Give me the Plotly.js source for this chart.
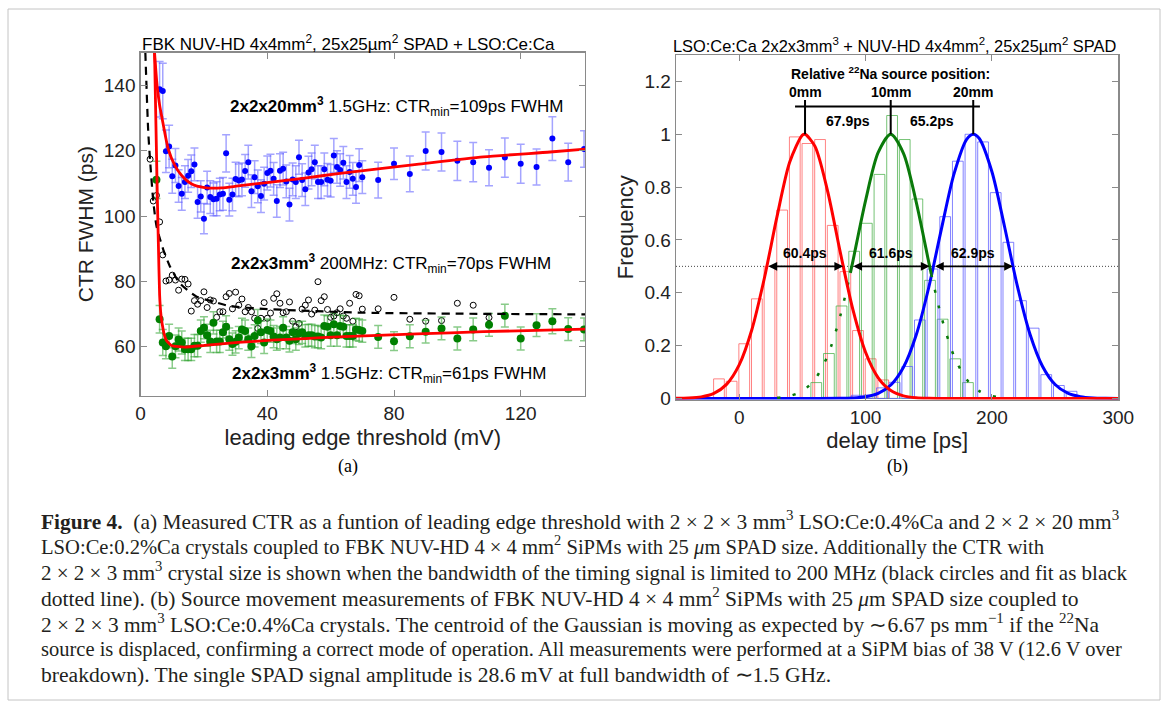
<!DOCTYPE html>
<html><head><meta charset="utf-8">
<script src="https://cdn.plot.ly/plotly-3.0.1.min.js"></script>
<style>html,body{margin:0;padding:0;background:#fff;}#chart{width:1168px;height:709px;}</style>
</head><body><div id="chart"></div>
<script>
// ---------- (a) CTR vs leading edge threshold ----------
const blueX = [6,7,8,9,10,11,12,13,14,15,16,17,18,19,20,21,22,23,24,25,26,27,28,29,30,31,32,33,34,35,36,37,38,39,40,41,42,43,44,45,46,47,48,49,50,51,52,53,54,55,56,57,58,59,60,61,62,63,64,65,66,67,68,69,70,75,80,85,90,95,100,105,110,115,120,125,130,135,140];
const blueY = [138.8,138.3,119.8,121.3,112.2,115.5,109.2,106.8,110.4,112.3,113.7,115.8,104.3,106.0,99.2,108.7,105.8,105.1,105.3,106.6,106.8,119.2,105.0,106.6,111.3,110.9,111.2,113.8,116.5,107.6,111.9,109.1,106.1,109.9,113.2,113.9,111.4,104.6,113.9,114.5,110.6,103.5,111.2,110.4,118.0,111.0,108.2,113.3,114.3,116.5,110.4,110.4,114.3,111.1,110.8,118.5,115.0,114.1,116.3,110.4,113.5,111.4,108.9,115.6,111.9,111.0,116.0,112.9,119.9,119.6,116.9,116.5,114.8,117.9,116.0,115.0,123.7,116.5,120.5];
const blueErr = [8.5,8.5,6.5,6.5,5.2,5.2,5.0,5.0,5.0,5.0,5.0,5.0,5.0,4.8,4.6,5.0,5.0,5.0,5.2,5.0,5.0,5.7,5.0,5.0,5.2,5.0,5.0,5.0,5.2,5.0,5.0,5.0,5.0,5.0,5.2,5.0,5.0,5.0,5.2,5.0,5.0,5.0,5.0,5.0,5.2,5.0,5.0,5.0,5.0,5.2,5.0,5.0,5.0,5.0,5.0,5.2,5.0,5.0,5.0,5.0,5.0,5.0,5.0,5.0,5.0,5.5,4.8,5.5,5.8,5.8,6.0,6.0,5.5,6.0,6.0,5.5,6.7,5.8,5.6];

const greenX = [5,6,7,8,9,10,11,12,13,14,15,16,17,18,19,20,21,22,23,24,25,26,27,28,29,30,31,32,33,34,35,36,37,38,39,40,41,42,43,44,45,46,47,48,49,50,51,52,53,54,55,56,57,58,59,60,61,62,63,64,65,66,67,68,69,70,75,80,85,90,95,100,105,110,115,120,125,130,135,140];
const greenY = [111.1,68.4,61.3,60.1,63.3,57.0,60.1,62.2,61.3,59.2,59.2,59.2,60.3,60.3,64.8,65.8,63.5,61.6,67.3,61.6,61.6,64.4,66.1,62.3,60.8,61.5,62.8,65.3,64.8,62.3,60.1,63.3,68.0,64.4,61.3,65.1,64.8,63.1,62.3,62.8,65.8,62.8,61.8,64.4,62.3,64.1,64.4,63.3,63.5,63.5,63.1,63.1,62.8,66.3,66.1,63.5,66.9,63.5,66.3,66.1,63.3,63.3,63.3,65.3,65.1,64.8,63.0,61.7,63.2,64.6,65.6,62.5,65.3,66.7,69.5,62.5,66.6,67.8,65.4,65.3];
const greenErr = [5.7,4.2,4.0,3.8,3.6,3.6,3.5,3.5,3.5,3.4,3.4,3.4,3.4,3.4,3.4,3.4,3.4,3.4,3.4,3.4,3.4,3.4,3.4,3.4,3.4,3.4,3.4,3.4,3.4,3.4,3.4,3.4,3.4,3.4,3.4,3.4,3.4,3.4,3.4,3.4,3.4,3.4,3.4,3.4,3.4,3.4,3.4,3.4,3.4,3.4,3.4,3.4,3.4,3.4,3.4,3.4,3.4,3.4,3.4,3.4,3.4,3.4,3.4,3.4,3.4,3.4,3.5,2.9,3.5,3.5,3.5,3.5,3.5,3.5,3.5,3.5,3.5,3.8,3.5,3.5];

const blackX = [3,4,5,6,7,8,9,10,11,12,13,14,15,16,17,18,19,20,21,22,23,24,25,26,27,28,29,30,31,32,33,34,35,36,37,38,39,40,41,42,43,44,45,46,47,48,49,50,51,52,53,54,55,56,57,58,59,60,61,62,63,64,65,66,67,68,69,70,75,80,85,90,95,100,105,110];
const blackY = [117.4,104.6,106.3,98.2,88.1,80.1,80.4,81.9,80.4,77.3,80.7,80.6,79.2,70.9,74.1,73.0,74.1,76.8,72.0,74.3,74.0,69.0,70.7,70.7,75.3,76.3,71.6,76.7,72.7,74.6,70.7,72.0,70.7,68.7,65.6,68.7,73.5,68.7,70.3,74.8,76.2,73.3,70.4,70.7,73.7,67.8,66.1,67.1,71.5,72.7,74.3,70.0,71.2,79.9,74.1,75.3,71.4,69.0,69.4,70.4,71.6,69.4,68.7,73.3,67.8,76.0,75.6,71.5,71.6,75.1,68.4,67.8,68.0,73.3,72.7,68.9];

// fit curves
const fit20X = [4.4,5.2,6.0,6.8,8.7,10.8,12.9,16.0,20.2,25.5,30.8,41.3,51.8,62.3,87.2,108.2,129.3,140.3];
const fit20Y = [150,140,134,129.8,120.6,115.5,112.5,109.9,108.7,108.6,109.2,110.4,111.6,113.0,115.8,118.1,119.6,120.5];
const fit3X = [4.4,4.7,5.0,5.3,5.6,6.0,6.4,6.8,7.4,8.1,9.7,12.0,14.0,20.2,30.8,41.3,51.8,62.3,87.2,108.2,140.3];
const fit3Y = [150,135,120,105,92,76,70,67,64,62,60.4,60.0,59.9,60.4,61.3,62.0,62.5,63.0,63.9,64.6,65.4];
const fitBWX = [1.5,2.4,3.0,4.0,5.0,6.1,7.2,9.3,12.4,17.7,23.0,28.2,38.7,49.3,70.3,101.9,140.3];
const fitBWY = [150,126,117,104.5,97,93,89.6,84.5,79.4,75.3,73.8,72.4,71.6,71.1,70.4,70.1,69.9];

// ---------- (b) source movement ----------
const redBinX = [-16,-6,4,14,24,34,44,54,64,74,84,94,104,114];
const redBinH = [0.074,0.065,0.207,0.377,0.50,0.713,0.99,0.965,0.98,0.655,0.48,0.257,0.15,0.07];
const greenBinX = [61,71,81,91,101,111,121,131,141,151,161,171,181];
const greenBinH = [0.06,0.17,0.35,0.557,0.663,0.848,1.071,0.98,0.755,0.447,0.30,0.15,0.06];
const blueBinX = [93,103,113,123,133,143,153,163,173,183,193,203,213,223,233,243,253,263];
const blueBinH = [0.012,0.013,0.04,0.061,0.121,0.297,0.49,0.688,0.898,1.0,0.971,0.779,0.591,0.37,0.266,0.09,0.049,0.027];

const redCurveX = [-50,-40,-30,-20,-10,0,10,20,30,40,50,52.1,60,70,80,90,100,110,120,130,140,150,160,200,300];
const redCurveY = [0.0004,0.0016,0.006,0.0193,0.0534,0.127,0.260,0.457,0.690,0.895,0.997,1.0,0.954,0.784,0.553,0.336,0.175,0.0782,0.0301,0.0099,0.0028,0.0007,0,0,0];
const greenCurveX = [30,40,50,60,70,80,88,90,100,110,119.9,130,140,150,152,160,170,180,190,200,210];
const greenCurveY = [0.0025,0.0094,0.0282,0.0727,0.162,0.3125,0.4755,0.520,0.749,0.931,1.0,0.928,0.745,0.516,0.471,0.309,0.160,0.0714,0.0276,0.0092,0.0027];
const blueCurveX = [-50,0,50,80,90,100,110,120,130,140,150,160,170,180,185.2,190,200,210,220,230,240,250,260,270,280,290,300];
const blueCurveY = [0,0,0,0.0004,0.0017,0.0062,0.019,0.0508,0.118,0.239,0.420,0.641,0.850,0.981,1.0,0.984,0.858,0.650,0.428,0.245,0.122,0.0527,0.0198,0.0065,0.0018,0.0005,0.0001];

const peakX = [52.1,119.9,185.2];
const peakLabels = ['0mm','10mm','20mm'];
const shiftLabels = ['67.9ps','65.2ps'];
const fwhmLo = [21.9,89.1,153.75];
const fwhmHi = [82.3,150.7,216.65];
const fwhmLabels = ['60.4ps','61.6ps','62.9ps'];
const halfMax = 0.5;
const bracketY = 1.105, bracketTop = 1.13, bracketEnds = [44.2,190.5];

// ---------- caption ----------
const captionLines = [
 '<b>Figure\u00a04.</b>\u00a0\u00a0(a) Measured CTR as a funtion of leading edge threshold with 2 × 2 × 3 mm<sup>3</sup> LSO:Ce:0.4%Ca and 2 × 2 × 20 mm<sup>3</sup>',
 'LSO:Ce:0.2%Ca crystals coupled to FBK NUV-HD 4 × 4 mm<sup>2</sup> SiPMs with 25 <i>μ</i>m SPAD size. Additionally the CTR with',
 '2 × 2 × 3 mm<sup>3</sup> crystal size is shown when the bandwidth of the timing signal is limited to 200 MHz (black circles and fit as black',
 'dotted line). (b) Source movement measurements of FBK NUV-HD 4 × 4 mm<sup>2</sup> SiPMs with 25 <i>μ</i>m SPAD size coupled to',
 '2 × 2 × 3 mm<sup>3</sup> LSO:Ce:0.4%Ca crystals. The centroid of the Gaussian is moving as expected by ∼6.67 ps mm<sup>−1</sup> if the <sup>22</sup>Na',
 'source is displaced, confirming a correct mode of operation. All measurements were performed at a SiPM bias of 38 V (12.6 V over',
 'breakdown). The single SPAD signal amplitude is 28.6 mV at full bandwidth of ∼1.5 GHz.'
];
const captionSizes = [21.4, 20.6, 21, 21.5, 21.4, 20.5, 21.6];

// ---------- build ----------
const W = 1168, H = 709;
const px = v => v / W, py = v => 1 - v / H;
const SANS = 'Liberation Sans, Arial, sans-serif';
const SERIF = 'Liberation Serif, Times New Roman, serif';

const traces = [];
traces.push({x: blueX, y: blueY, xaxis:'x', yaxis:'y', type:'scatter', mode:'markers',
  marker:{color:'#0000ff', size:6},
  error_y:{type:'data', array: blueErr, color:'rgba(90,90,255,0.55)', thickness:1.5, width:4}});
traces.push({x: blackX, y: blackY, xaxis:'x', yaxis:'y', type:'scatter', mode:'markers',
  marker:{symbol:'circle-open', color:'#000', size:6, line:{width:1}}});
traces.push({x: greenX, y: greenY, xaxis:'x', yaxis:'y', type:'scatter', mode:'markers',
  marker:{color:'#008000', size:8},
  error_y:{type:'data', array: greenErr, color:'rgba(40,160,40,0.55)', thickness:1.5, width:4}});
traces.push({x: fitBWX, y: fitBWY, xaxis:'x', yaxis:'y', mode:'lines',
  line:{color:'#000', width:2.2, dash:'8px,6px', shape:'spline', smoothing:0.6}});
traces.push({x: fit20X, y: fit20Y, xaxis:'x', yaxis:'y', mode:'lines',
  line:{color:'#ff0000', width:2.8, shape:'spline', smoothing:0.6}});
traces.push({x: fit3X, y: fit3Y, xaxis:'x', yaxis:'y', mode:'lines',
  line:{color:'#ff0000', width:2.8, shape:'spline', smoothing:0.5}});

// histograms
const bar = (x, y, c) => ({type:'bar', x, y, width:8.5, xaxis:'x2', yaxis:'y2',
  marker:{color:'rgba(0,0,0,0)', line:{color:c, width:1}}});
traces.push(bar(redBinX, redBinH, 'rgba(255,90,90,0.75)'));
traces.push(bar(greenBinX, greenBinH, 'rgba(60,170,60,0.7)'));
traces.push(bar(blueBinX, blueBinH, 'rgba(90,90,255,0.75)'));

// green curve: solid core, broken tails
const gCore = greenCurveX.map((v,i)=>i).filter(i => greenCurveY[i] >= 0.47);
const gLeft = greenCurveX.map((v,i)=>i).filter(i => greenCurveX[i] <= greenCurveX[gCore[0]]);
const gRight = greenCurveX.map((v,i)=>i).filter(i => greenCurveX[i] >= greenCurveX[gCore[gCore.length-1]]);
const sub = (arr, idx) => idx.map(i => arr[i]);
traces.push({x: blueCurveX, y: blueCurveY, xaxis:'x2', yaxis:'y2', mode:'lines',
  line:{color:'#0000ff', width:3, shape:'spline', smoothing:0.8}});
[gLeft, gRight].forEach(idx => traces.push({x: sub(greenCurveX, idx), y: sub(greenCurveY, idx), xaxis:'x2', yaxis:'y2', mode:'lines',
  line:{color:'#0a7a0a', width:2.5, dash:'3px,13px', shape:'spline', smoothing:0.8}}));
traces.push({x: sub(greenCurveX, gCore), y: sub(greenCurveY, gCore), xaxis:'x2', yaxis:'y2', mode:'lines',
  line:{color:'#0a7a0a', width:3, shape:'spline', smoothing:0.8}});
traces.push({x: redCurveX, y: redCurveY, xaxis:'x2', yaxis:'y2', mode:'lines',
  line:{color:'#ff0000', width:3, shape:'spline', smoothing:0.8}});

// bracket on top of peaks
const bx = [bracketEnds[0], bracketEnds[1], null], by = [bracketY, bracketY, null];
peakX.forEach(p => { bx.push(p, p, null); by.push(1.0, bracketTop, null); });
traces.push({x: bx, y: by, xaxis:'x2', yaxis:'y2', mode:'lines', line:{color:'#000', width:2}});

const ann = [];
const boldF = {family:SANS, size:14, color:'#000'};
ann.push({xref:'x2', yref:'y2', x: peakX[1], y: 1.232, text:'<b>Relative <sup>22</sup>Na source position:</b>', showarrow:false, font:boldF});
peakX.forEach((p,i) => ann.push({xref:'x2', yref:'y2', x:p, y:1.159, text:'<b>'+peakLabels[i]+'</b>', showarrow:false, font:boldF}));
shiftLabels.forEach((t,i) => ann.push({xref:'x2', yref:'y2', x:(peakX[i]+peakX[i+1])/2, y:1.05, text:'<b>'+t+'</b>', showarrow:false, font:boldF}));
fwhmLo.forEach((lo,i) => {
  ann.push({xref:'x2', yref:'y2', axref:'x2', ayref:'y2', x: fwhmHi[i], y: halfMax, ax: lo, ay: halfMax, text:'',
    showarrow:true, arrowside:'end+start', arrowhead:2, startarrowhead:2, arrowsize:1.1, startarrowsize:1.1, arrowwidth:1.6, arrowcolor:'#000'});
  ann.push({xref:'x2', yref:'y2', x:(lo+fwhmHi[i])/2, y: halfMax, yshift:13, text:'<b>'+fwhmLabels[i]+'</b>', showarrow:false, font:boldF});
});

// left annotations
const aF = {family:SANS, size:17, color:'#000'};
ann.push({xref:'x', yref:'y', x:80.9, y:133.5, text:'<b>2x2x20mm<sup>3</sup></b> 1.5GHz: CTR<sub>min</sub>=109ps FWHM', showarrow:false, font:aF});
ann.push({xref:'x', yref:'y', x:79.2, y:85.5, text:'<b>2x2x3mm<sup>3</sup></b> 200MHz: CTR<sub>min</sub>=70ps FWHM', showarrow:false, font:aF});
ann.push({xref:'x', yref:'y', x:78.3, y:51.8, text:'<b>2x2x3mm<sup>3</sup></b> 1.5GHz: CTR<sub>min</sub>=61ps FWHM', showarrow:false, font:aF});

// plot titles and panel labels
ann.push({xref:'paper', yref:'paper', x:px(348), y:py(43), xanchor:'center', yanchor:'middle', text:'FBK NUV-HD 4x4mm<sup>2</sup>, 25x25µm<sup>2</sup> SPAD + LSO:Ce:Ca', showarrow:false, font:{family:SANS, size:17, color:'#000'}});
ann.push({xref:'paper', yref:'paper', x:px(894), y:py(45), xanchor:'center', yanchor:'middle', text:'LSO:Ce:Ca 2x2x3mm<sup>3</sup> + NUV-HD 4x4mm<sup>2</sup>, 25x25µm<sup>2</sup> SPAD', showarrow:false, font:{family:SANS, size:16.4, color:'#000'}});
ann.push({xref:'paper', yref:'paper', x:px(348), y:py(466), xanchor:'center', yanchor:'middle', text:'(a)', showarrow:false, font:{family:SERIF, size:18, color:'#000'}});
ann.push({xref:'paper', yref:'paper', x:px(897), y:py(466), xanchor:'center', yanchor:'middle', text:'(b)', showarrow:false, font:{family:SERIF, size:18, color:'#000'}});

captionLines.forEach((t,i) => ann.push({xref:'paper', yref:'paper', x:px(39), y:py(520 + i*25.8), xanchor:'left', yanchor:'middle',
  text:t, showarrow:false, font:{family:SERIF, size:captionSizes[i], color:'#231f20'}}));

const axCommon = {showline:true, linecolor:'#8a8a8a', linewidth:1.3, mirror:'ticks', ticks:'inside', ticklen:6, tickcolor:'#8a8a8a',
  showgrid:false, zeroline:false, tickfont:{family:SANS, size:19, color:'#222'}, fixedrange:true};

const layout = {
  width:W, height:H, margin:{l:0,r:0,t:0,b:0}, paper_bgcolor:'#fff', plot_bgcolor:'#fff',
  showlegend:false, barmode:'overlay',
  xaxis: Object.assign({}, axCommon, {domain:[px(140.6), px(585)], range:[0,140.3], tick0:0, dtick:40, anchor:'y',
    title:{text:'leading edge threshold (mV)', font:{family:SANS, size:22, color:'#222'}, standoff:6}}),
  yaxis: Object.assign({}, axCommon, {domain:[py(395.7), py(52.7)], range:[45,150], tick0:0, dtick:20, anchor:'x',
    title:{text:'CTR FWHM (ps)', font:{family:SANS, size:21, color:'#222'}, standoff:4}}),
  xaxis2: Object.assign({}, axCommon, {domain:[px(676), px(1118.3)], range:[-50,300], tick0:0, dtick:100, anchor:'y2',
    title:{text:'delay time [ps]', font:{family:SANS, size:22, color:'#222'}, standoff:6}}),
  yaxis2: Object.assign({}, axCommon, {domain:[py(399.5), py(55)], range:[-0.004,1.3], tick0:0, dtick:0.2, anchor:'x2',
    title:{text:'Frequency', font:{family:SANS, size:22, color:'#222'}, standoff:4}}),
  shapes:[
    {type:'line', xref:'x2', yref:'y2', x0:-50, x1:300, y0:halfMax, y1:halfMax, line:{color:'#444', width:1, dash:'1px,2px'}, layer:'below'},
    {type:'rect', xref:'paper', yref:'paper', x0:px(8), x1:px(1160), y0:py(700), y1:py(9), line:{color:'#c4c4c4', width:1}}
  ],
  annotations: ann
};
Plotly.newPlot('chart', traces, layout, {staticPlot:true, displayModeBar:false});
</script></body></html>
